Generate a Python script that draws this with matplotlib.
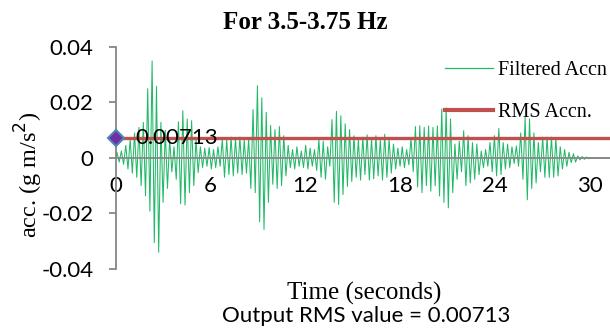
import numpy as np
import matplotlib
matplotlib.use("Agg")
import matplotlib.pyplot as plt
from matplotlib.lines import Line2D

# Band-pass filtered acceleration (3.5-3.75 Hz): positive and negative
# extreme of each oscillation cycle, in units of 0.001 g m/s^2
cycle_period = 0.278  # seconds per cycle (~3.6 Hz)
peaks_milli = [
    2.0, 2.5, 4.5, 6.7, 9.0, 11.0, 12.8, 24.9, 34.9, 25.8,
    12.8, 10.0, 6.7, 4.0, 13.0, 17.0, 14.0, 13.4, 6.7, 4.0,
    3.5, 3.7, 3.0, 4.0, 6.7, 6.5, 7.5, 7.0, 7.5, 6.5,
    7.0, 17.4, 26.0, 21.6, 16.4, 11.7, 10.2, 11.3, 8.0, 4.5,
    3.0, 4.0, 2.5, 4.5, 3.5, 3.0, 6.6, 6.0, 4.0, 13.8,
    16.8, 15.2, 12.3, 10.2, 8.0, 6.6, 7.5, 8.3, 7.0, 8.0,
    6.5, 8.5, 7.0, 5.0, 3.5, 4.0, 3.0, 7.0, 11.3, 11.6,
    11.0, 11.5, 11.0, 11.6, 17.6, 18.0, 14.0, 5.0, 6.0, 9.8,
    8.0, 5.5, 5.0, 2.5, 3.0, 5.5, 8.0, 10.6, 5.5, 5.0,
    4.0, 4.3, 9.0, 14.6, 14.0, 9.0, 5.5, 7.5, 7.5, 7.5,
    7.0, 4.0, 3.0, 2.0, 1.5, 0.7, 0.5, 0.3,
]
troughs_milli = [
    -1.5, -2.3, -4.0, -5.5, -7.0, -10.0, -13.7, -19.2, -30.5, -34.0,
    -16.0, -11.0, -5.0, -7.7, -16.5, -17.0, -12.5, -10.0, -5.3, -3.5,
    -3.0, -4.0, -3.5, -3.0, -7.0, -6.0, -6.5, -5.5, -6.0, -5.5,
    -11.0, -12.5, -23.0, -25.8, -16.0, -9.5, -11.0, -10.0, -6.5, -3.5,
    -4.0, -3.0, -3.5, -4.0, -3.0, -4.5, -7.0, -7.7, -3.0, -16.0,
    -16.8, -13.2, -10.3, -8.5, -7.0, -8.0, -6.0, -8.0, -7.5, -6.5,
    -8.0, -7.0, -5.5, -4.0, -3.0, -3.5, -2.5, -5.0, -10.5, -12.5,
    -10.0, -12.0, -10.0, -13.7, -16.0, -18.0, -12.5, -7.7, -5.0, -10.0,
    -9.0, -7.7, -6.0, -3.5, -3.0, -5.0, -6.5, -6.0, -4.0, -3.5,
    -2.0, -3.0, -7.7, -15.1, -11.0, -9.0, -5.0, -7.0, -7.0, -7.0,
    -6.5, -4.0, -3.0, -1.7, -1.5, -0.7, -0.5, -0.3,
]
rms_value = 0.00713
record_end = 31.3  # seconds shown on the time axis

x_ticks = [0, 6, 12, 18, 24, 30]
y_ticks = [-0.04, -0.02, 0, 0.02, 0.04]
y_tick_labels = ["-0.04", "-0.02", "0", "0.02", "0.04"]

# assemble the waveform: peak at a quarter cycle, trough at three quarters
n_cycles = len(peaks_milli)
k = np.arange(n_cycles)
t_ext = np.empty(2 * n_cycles)
a_ext = np.empty(2 * n_cycles)
t_ext[0::2] = (k + 0.25) * cycle_period
t_ext[1::2] = (k + 0.75) * cycle_period
a_ext[0::2] = np.array(peaks_milli) * 1e-3
a_ext[1::2] = np.array(troughs_milli) * 1e-3
t = np.concatenate([[0.0], t_ext, [n_cycles * cycle_period, record_end]])
acc = np.concatenate([[0.0], a_ext, [0.0, 0.0]])

sans = "Lato"
serif = "Liberation Serif"
sans_size = 16

fig = plt.figure(figsize=(6.1, 3.3), dpi=100)
ax = fig.add_axes([0.19, 0.185, 0.81, 0.673])

green = "#22b968"
red = "#c0504d"
axis_grey = "#868686"

ax.plot(t, acc, color=green, lw=0.75, zorder=2, label="Filtered Accn")
ax.plot([0, record_end], [rms_value, rms_value], color=red, lw=2.4,
        zorder=3, label="RMS Accn.")
ax.plot([0], [rms_value], marker="D", markersize=8.5,
        markerfacecolor="#7030a0", markeredgecolor="#4f81bd",
        markeredgewidth=1.5, zorder=5, clip_on=False)
ax.text(1.25, rms_value, f"{rms_value:.5f}", fontsize=sans_size,
        family=sans, va="center", ha="left", zorder=6)

ax.set_xlim(0, record_end)
ax.set_ylim(-0.04, 0.04)

for side in ("top", "right"):
    ax.spines[side].set_visible(False)
ax.spines["bottom"].set_position(("data", 0))
ax.spines["bottom"].set_color(axis_grey)
ax.spines["bottom"].set_linewidth(1.3)
ax.spines["bottom"].set_zorder(4)
ax.spines["left"].set_color(axis_grey)
ax.spines["left"].set_linewidth(1.3)

ax.set_xticks(x_ticks)
ax.set_xticklabels([str(v) for v in x_ticks])
ax.set_yticks(y_ticks)
ax.set_yticklabels(y_tick_labels)
ax.tick_params(axis="x", length=0, pad=13, labelsize=sans_size)
ax.tick_params(axis="y", length=5, width=1.3, color=axis_grey,
               direction="out", pad=11, labelsize=sans_size)
for lab in ax.get_xticklabels() + ax.get_yticklabels():
    lab.set_family(sans)

fig.text(0.5, 0.968, "For 3.5-3.75 Hz", family=serif, weight="bold",
         fontsize=18, ha="center", va="top")
fig.text(0.047, 0.47, "acc. (g m/s$^2$)", family=serif, fontsize=17.5,
         rotation=90, ha="center", va="center")
fig.text(0.597, 0.112, "Time (seconds)", family=serif, fontsize=18,
         ha="center", va="center")
fig.text(0.601, 0.042, f"Output RMS value = {rms_value:.5f}", family=sans,
         fontsize=sans_size, ha="center", va="center")

handles = [Line2D([], [], color=green, lw=0.9),
           Line2D([], [], color=red, lw=3)]
fig.legend(handles, ["Filtered Accn", "RMS Accn."], loc="upper left",
           bbox_to_anchor=(0.7295, 0.815), frameon=False,
           prop={"family": serif, "size": 14.5}, handlelength=2.4,
           handletextpad=0.25, labelspacing=1.15, borderaxespad=0,
           borderpad=0)

fig.savefig("out.png", dpi=100)
